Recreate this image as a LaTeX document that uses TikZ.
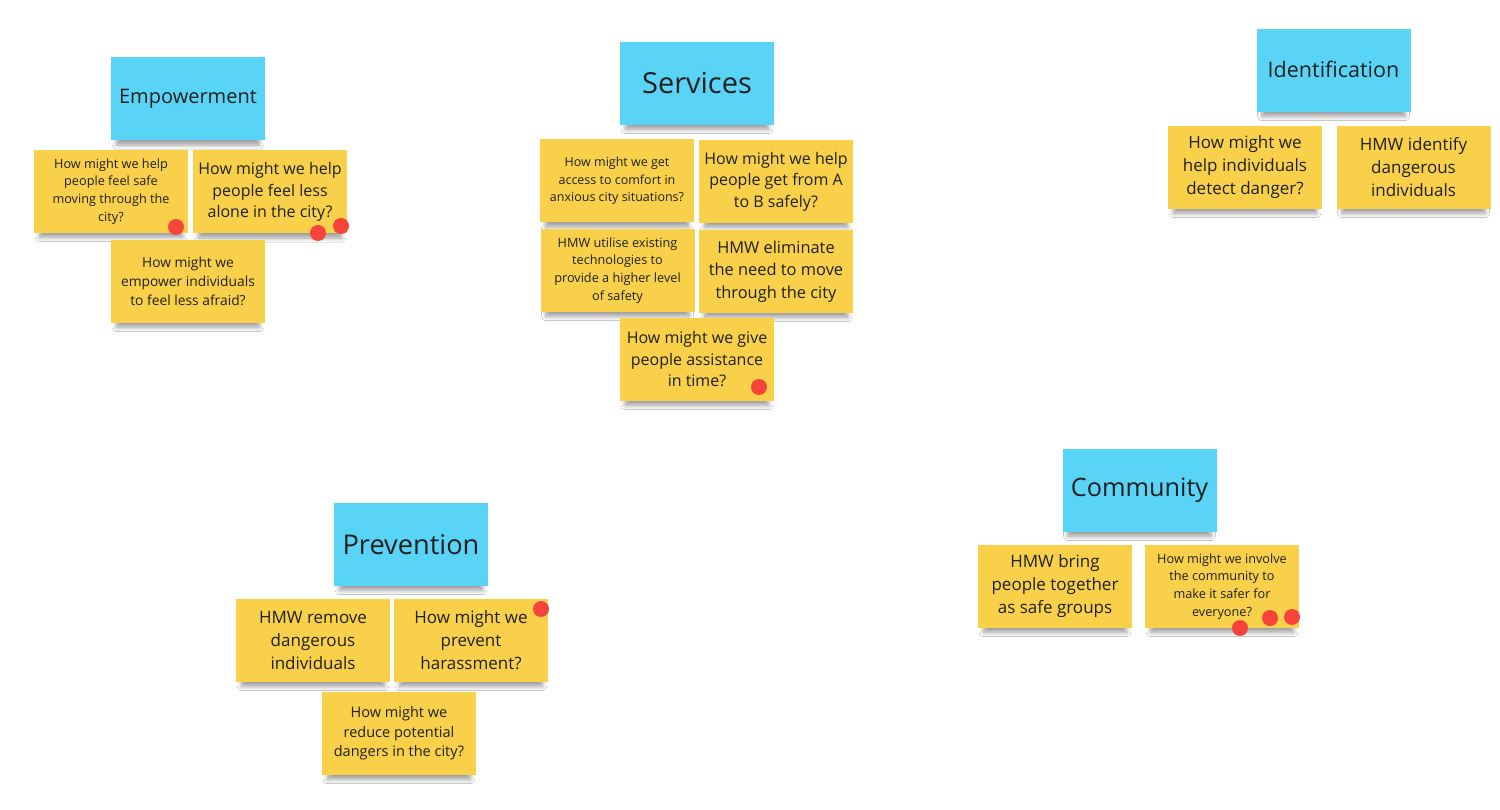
\documentclass[tikz,border=0pt]{standalone}
\usepackage{fontspec}
\setmainfont{Open Sans}
\usetikzlibrary{shadows.blur}
\definecolor{noteY}{HTML}{F8D04A}
\definecolor{noteB}{HTML}{5AD4F6}
\definecolor{dotR}{HTML}{F5453A}
\definecolor{txt}{HTML}{202020}
\tikzset{
  note/.style={fill=noteY, minimum width=154pt, minimum height=83pt, inner sep=0pt,
    align=center, text=txt,
    blur shadow={shadow xshift=0pt, shadow yshift=-8pt, shadow opacity=38, shadow scale=0.93, shadow blur radius=4.5pt, shadow blur steps=8}},
  cat/.style={note, fill=noteB},
  reddot/.style={circle, fill=dotR, minimum size=16pt, inner sep=0pt},
  fa/.style={font=\fontsize{12.5}{17.5}\selectfont},
  fb/.style={font=\fontsize{12.7}{17.7}\selectfont},
  fc/.style={font=\fontsize{14.5}{19.5}\selectfont},
  fcc/.style={font=\fontsize{13.8}{19}\selectfont},
  fd/.style={font=\fontsize{16}{21.5}\selectfont},
  fdd/.style={font=\fontsize{16.4}{22.3}\selectfont},
  fe/.style={font=\fontsize{17}{23}\selectfont},
  ft/.style={font=\fontsize{20}{26}\selectfont},
}
\begin{document}
\begin{tikzpicture}[x=1pt,y=-1pt]
\useasboundingbox[fill=white] (0,0) rectangle (1500,810);

% Empowerment
\node[cat,ft] (e0) at (188,99) {Empowerment};
\node[note,fb] (e1) at (111,191.5) {How might we help\\people feel safe\\moving through the\\city?};
\node[note,fd] (e2) at (270,192) {How might we help\\people feel less\\alone in the city?};
\node[note,fcc] (e3) at (188,281.5) {How might we\\empower individuals\\to feel less afraid?};
\node[reddot] (e1d) at (176,227) {};
\node[reddot] (e2d1) at (318,233) {};
\node[reddot] (e2d2) at (341,226) {};

% Services
\node[cat,font=\fontsize{29}{35}\selectfont] (s0) at (697,83.5) {Services};
\node[note,fa] (s1) at (617,181) {How might we get\\access to comfort in\\anxious city situations?};
\node[note,fd] (s2) at (776,181.5) {How might we help\\people get from A\\to B safely?};
\node[note,fb] (s3) at (617.5,270.5) {HMW utilise existing\\technologies to\\provide a higher level\\of safety};
\node[note,fdd] (s4) at (776,271.5) {HMW eliminate\\the need to move\\through the city};
\node[note,fd] (s5) at (697,359.5) {How might we give\\people assistance\\in time?};
\node[reddot] (s5d) at (759,387) {};

% Identification
\node[cat,font=\fontsize{21.5}{27}\selectfont] (i0) at (1333.5,70.5) {\raisebox{3pt}{Identification}};
\node[note,fe] (i1) at (1245,167.5) {How might we\\help individuals\\detect danger?};
\node[note,fe] (i2) at (1413.5,167.5) {HMW identify\\dangerous\\individuals};

% Prevention
\node[cat,font=\fontsize{27.2}{33}\selectfont] (p0) at (411,544.5) {Prevention};
\node[note,fe] (p1) at (313,640.5) {HMW remove\\dangerous\\individuals};
\node[note,fe] (p2) at (471,640.5) {How might we\\prevent\\harassment?};
\node[note,fc] (p3) at (399,733.5) {How might we\\reduce potential\\dangers in the city?};
\node[reddot] (p2d) at (541,609) {};

% Community
\node[cat,font=\fontsize{25.3}{31}\selectfont] (c0) at (1139.5,490.5) {Community};
\node[note,fe] (c1) at (1055,586.5) {HMW bring\\people together\\as safe groups};
\node[note,fb] (c2) at (1222,586.5) {How might we involve\\the community to\\make it safer for\\everyone?};
\node[reddot] (c2d1) at (1240,628) {};
\node[reddot] (c2d2) at (1270,618) {};
\node[reddot] (c2d3) at (1292,617) {};
\end{tikzpicture}
\end{document}
